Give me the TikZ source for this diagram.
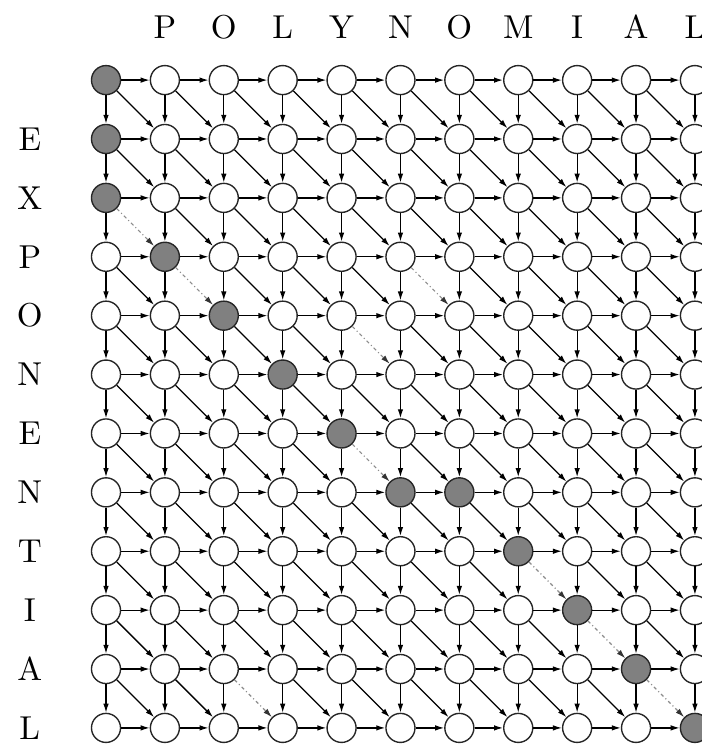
\documentclass[tikz,border=0pt]{standalone}
\usetikzlibrary{arrows.meta}
\tikzset{
  cell/.style={circle,draw=black!85,line width=1pt,fill=white,minimum size=0.74cm,inner sep=0pt},
  hot/.style={cell,fill=black!50},
  link/.style={-{Latex[length=6.5pt,width=4pt]},line width=0.9pt},
  dashlink/.style={-{Latex[length=6.5pt,width=4pt,color=black!80]},line width=0.8pt,draw=black!45,dash pattern=on 2.5pt off 2pt on 0.8pt off 2pt},
  letter/.style={scale=2.4}
}
\begin{document}
\begin{tikzpicture}
\useasboundingbox (-2.70,2.04) rectangle (15.18,-16.91);
% shaded cells and dashed diagonals
\foreach \p in {0-0,1-0,2-0,3-1,4-2,5-3,6-4,7-5,7-6,8-7,9-8,10-9,11-10}
  {\expandafter\gdef\csname hot-\p\endcsname{}}
\foreach \p in {2-0,3-1,3-5,4-4,6-4,8-7,9-8,10-9,10-2}
  {\expandafter\gdef\csname dash-\p\endcsname{}}
% cells
\foreach \i in {0,...,11} {
  \foreach \j in {0,...,10} {
    \ifcsname hot-\i-\j\endcsname\def\kind{hot}\else\def\kind{cell}\fi
    \node[style=\kind] (n-\i-\j) at (1.5*\j,-1.5*\i) {};
  }
}
% right
\foreach \i in {0,...,11} {
  \foreach \j [count=\k] in {0,...,9} {
    \draw[link] (n-\i-\j) -- (n-\i-\k);
  }
}
% down
\foreach \i [count=\k] in {0,...,10} {
  \foreach \j in {0,...,10} {
    \draw[link] (n-\i-\j) -- (n-\k-\j);
  }
}
% diagonal
\foreach \i [count=\k] in {0,...,10} {
  \foreach \j [count=\l] in {0,...,9} {
    \ifcsname dash-\i-\j\endcsname\def\kind{dashlink}\else\def\kind{link}\fi
    \draw[style=\kind] (n-\i-\j) -- (n-\k-\l);
  }
}
% labels
\foreach \c [count=\j] in {P,O,L,Y,N,O,M,I,A,L}
  \node[letter] (top-\j) at (1.5*\j,1.35) {\c};
\foreach \c [count=\i] in {E,X,P,O,N,E,N,T,I,A,L}
  \node[letter] (side-\i) at (-1.94,-1.5*\i) {\c};
\end{tikzpicture}
\end{document}
